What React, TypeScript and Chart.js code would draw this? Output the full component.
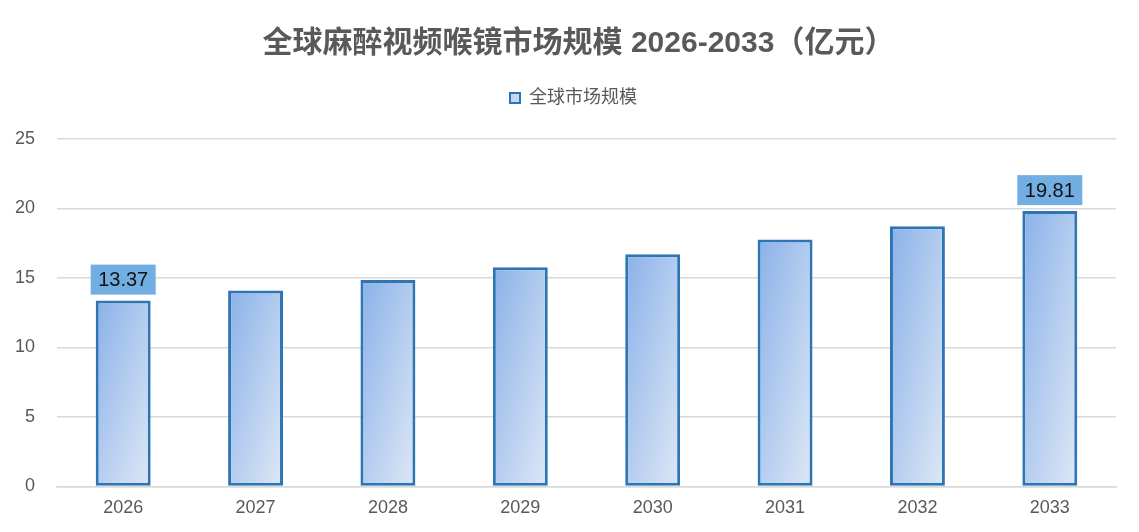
import React, { useEffect, useRef } from 'react';
import { Chart, registerables } from 'chart.js';

Chart.register(...registerables);

const years = ['2026', '2027', '2028', '2029', '2030', '2031', '2032', '2033'];
const marketSize = [13.37, 14.1, 14.86, 15.77, 16.7, 17.76, 18.72, 19.81];
const labelledIdx = [0, 7];
const yTicks = [0, 5, 10, 15, 20, 25];

const FONT = "'Liberation Sans', 'Noto Sans CJK SC', sans-serif";
const GREY = '#595959';
const BAR_PCT = 0.415;

// value boxes over the first and last bar
const valueBoxes = {
  id: 'valueBoxes',
  afterDatasetsDraw(chart: Chart) {
    const ctx = chart.ctx;
    const meta = chart.getDatasetMeta(0);
    ctx.save();
    labelledIdx.forEach((i) => {
      const el: any = meta.data[i];
      if (!el) return;
      const w = 65;
      const h = 30;
      const bottom = el.y - 6;
      ctx.fillStyle = '#72AEE2';
      ctx.fillRect(el.x - w / 2, bottom - h, w, h);
      ctx.fillStyle = '#111111';
      ctx.font = `20px ${FONT}`;
      ctx.textAlign = 'center';
      ctx.textBaseline = 'middle';
      ctx.fillText(marketSize[i].toFixed(2), el.x, bottom - h / 2 + 1);
    });
    ctx.restore();
  },
};

// extra room under the legend, and title/legend nudged right
const headerTweaks = {
  id: 'headerTweaks',
  beforeInit(chart: any) {
    const fit = chart.legend.fit;
    chart.legend.fit = function () {
      fit.bind(chart.legend)();
      this.height += 22;
    };
  },
  afterLayout(chart: any) {
    if (chart.titleBlock) {
      chart.titleBlock.left += 14;
      chart.titleBlock.right += 14;
    }
    if (chart.legend) {
      chart.legend.left += 9;
      chart.legend.right += 9;
    }
  },
};

const barFill = (c: any) => {
  const chart = c.chart;
  if (!chart.chartArea || c.type !== 'data') return '#B4CDEF';
  const xs = chart.scales.x;
  const ys = chart.scales.y;
  const cx = xs.getPixelForValue(c.dataIndex);
  const top = ys.getPixelForValue(c.raw);
  const base = ys.getPixelForValue(0);
  const w = (xs.width / years.length) * BAR_PCT;
  const h = base - top;
  const left = cx - w / 2;
  const L2 = w * w + h * h;
  const t = (2 * w * h) / L2;
  const g = chart.ctx.createLinearGradient(left, top, left + h * t, top + w * t);
  g.addColorStop(0, '#8AB1E8');
  g.addColorStop(1, '#DEE8F6');
  return g;
};

const App: React.FC = () => {
  const canvasRef = useRef<HTMLCanvasElement | null>(null);
  const chartRef = useRef<Chart | null>(null);

  useEffect(() => {
    const canvas = canvasRef.current;
    if (!canvas) return;
    const ctx = canvas.getContext('2d');
    if (!ctx) return;
    if (chartRef.current) chartRef.current.destroy();

    chartRef.current = new Chart(ctx, {
      type: 'bar',
      data: {
        labels: years,
        datasets: [
          {
            label: '全球市场规模',
            data: marketSize,
            backgroundColor: barFill,
            borderColor: '#2E75B6',
            borderWidth: 3,
            borderSkipped: false,
            barPercentage: BAR_PCT,
            categoryPercentage: 1,
          },
        ],
      },
      options: {
        responsive: false,
        animation: false,
        layout: { padding: { left: 13, right: 23, top: 0, bottom: 2 } },
        plugins: {
          title: {
            display: true,
            text: '全球麻醉视频喉镜市场规模 2026-2033（亿元）',
            color: GREY,
            font: { family: FONT, size: 30, weight: 'bold' },
            padding: { top: 26, bottom: 17 },
          },
          legend: {
            display: true,
            labels: {
              color: GREY,
              font: { family: FONT, size: 18 },
              boxWidth: 10,
              boxHeight: 10,
              padding: 10,
              generateLabels: () => [
                {
                  text: '全球市场规模',
                  fillStyle: '#C5D8F1',
                  strokeStyle: '#2E75B6',
                  lineWidth: 2,
                  fontColor: GREY,
                  datasetIndex: 0,
                } as any,
              ],
            },
          },
          tooltip: { enabled: false },
        },
        scales: {
          x: {
            grid: { display: false, drawTicks: false },
            border: { display: true, color: '#D9D9D9', width: 1.5 },
            ticks: { color: GREY, font: { family: FONT, size: 18 }, padding: 11 },
          },
          y: {
            min: 0,
            max: 25,
            afterBuildTicks: (axis: any) => {
              axis.ticks = yTicks.map((v) => ({ value: v }));
            },
            afterFit: (axis: any) => {
              axis.width = 44;
            },
            grid: { color: '#D9D9D9', lineWidth: 1.5, drawTicks: false },
            border: { display: false },
            ticks: { color: GREY, font: { family: FONT, size: 18 }, padding: 22 },
          },
        },
      },
      plugins: [valueBoxes, headerTweaks],
    });

    return () => {
      if (chartRef.current) chartRef.current.destroy();
      chartRef.current = null;
    };
  }, []);

  return (
    <div style={{ position: 'fixed', left: 0, top: 0, width: 1139, height: 532, background: '#fff' }}>
      <canvas ref={canvasRef} width={1139} height={532}></canvas>
    </div>
  );
};

export default App;
